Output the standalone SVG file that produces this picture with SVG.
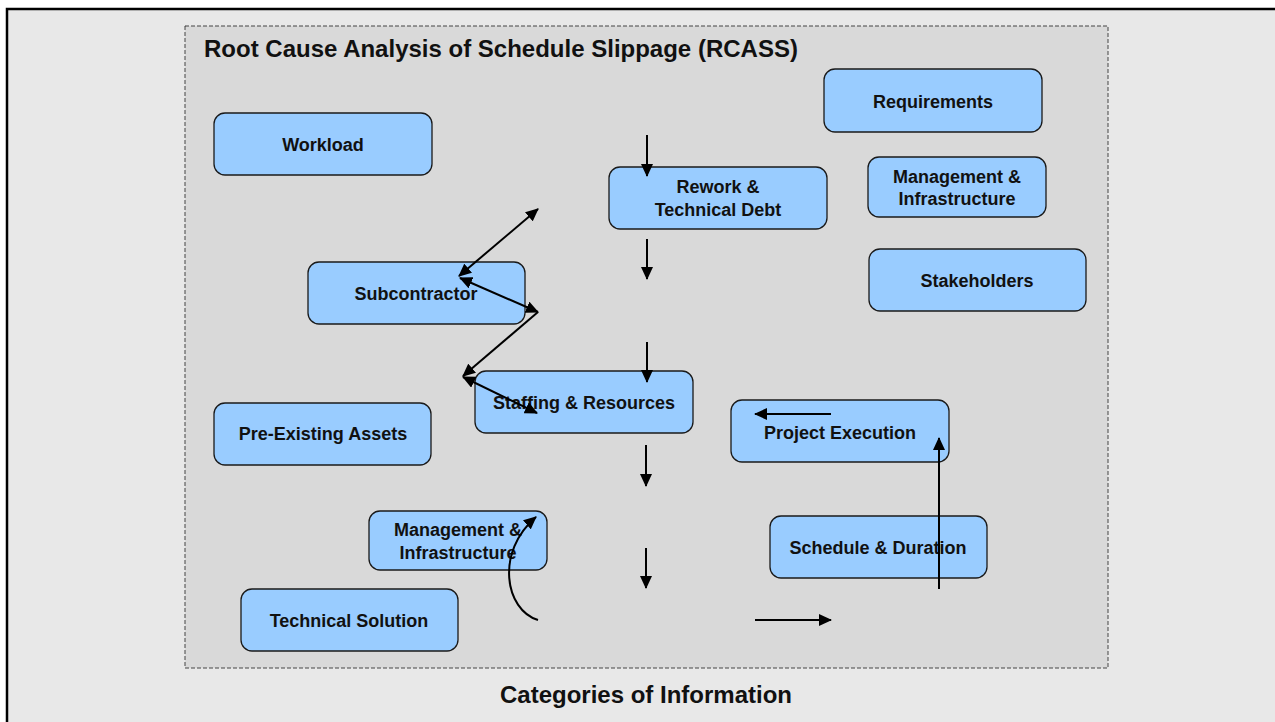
<svg xmlns="http://www.w3.org/2000/svg" width="1275" height="722" viewBox="0 0 1275 722">
<style>
.node rect{fill:#99ccff;stroke:#1a1a1a;stroke-width:1.3}
.node text,.lbl{font-family:"Liberation Sans",Arial,Helvetica,sans-serif;font-weight:bold;fill:#111}
.node text{font-size:18px;text-anchor:middle}
.conn path,.conn line{stroke:#000;stroke-width:2;fill:none}
</style>
<defs>
<marker id="ah" markerUnits="userSpaceOnUse" markerWidth="13" markerHeight="12" refX="12" refY="6" orient="auto-start-reverse" viewBox="0 0 13 12">
<path d="M0,0 L13,6 L0,12 z" fill="#000"/>
</marker>
</defs>
<rect x="0" y="0" width="1275" height="722" fill="#ffffff"/>
<rect id="frame" x="7" y="9" width="1300" height="760" fill="#e8e8e8" stroke="#000" stroke-width="2.5"/>
<rect id="panel" x="185" y="26" width="923" height="642" fill="#d9d9d9" stroke="#444" stroke-width="1" stroke-dasharray="4,2"/>
<text class="lbl" x="204" y="57" font-size="24">Root Cause Analysis of Schedule Slippage (RCASS)</text>
<text class="lbl" x="646" y="703" font-size="24" text-anchor="middle">Categories of Information</text>

<g id="n-workload" class="node"><rect x="214" y="113" width="218" height="62" rx="11"/><text x="323" y="151">Workload</text></g>
<g id="n-requirements" class="node"><rect x="824" y="69" width="218" height="63" rx="11"/><text x="933" y="108">Requirements</text></g>
<g id="n-rework" class="node"><rect x="609" y="167" width="218" height="62" rx="11"/><text x="718" y="193">Rework &amp;</text><text x="718" y="216">Technical Debt</text></g>
<g id="n-mgmt1" class="node"><rect x="868" y="157" width="178" height="60" rx="11"/><text x="957" y="183">Management &amp;</text><text x="957" y="205">Infrastructure</text></g>
<g id="n-stakeholders" class="node"><rect x="869" y="249" width="217" height="62" rx="11"/><text x="977" y="287">Stakeholders</text></g>
<g id="n-subcontractor" class="node"><rect x="308" y="262" width="217" height="62" rx="11"/><text x="416" y="300">Subcontractor</text></g>
<g id="n-preexisting" class="node"><rect x="214" y="403" width="217" height="62" rx="11"/><text x="323" y="440">Pre-Existing Assets</text></g>
<g id="n-staffing" class="node"><rect x="475" y="371" width="218" height="62" rx="11"/><text x="584" y="409">Staffing &amp; Resources</text></g>
<g id="n-mgmt2" class="node"><rect x="369" y="511" width="178" height="59" rx="11"/><text x="458" y="536">Management &amp;</text><text x="458" y="559">Infrastructure</text></g>
<g id="n-techsol" class="node"><rect x="241" y="589" width="217" height="62" rx="11"/><text x="349" y="627">Technical Solution</text></g>
<g id="n-projexec" class="node"><rect x="731" y="400" width="218" height="62" rx="11"/><text x="840" y="439">Project Execution</text></g>
<g id="n-schedule" class="node"><rect x="770" y="516" width="217" height="62" rx="11"/><text x="878" y="554">Schedule &amp; Duration</text></g>

<g id="connectors" class="conn">
<line x1="647" y1="135" x2="647" y2="176" marker-end="url(#ah)"/>
<line x1="647" y1="239" x2="647" y2="279" marker-end="url(#ah)"/>
<line x1="647" y1="342" x2="647" y2="382" marker-end="url(#ah)"/>
<line x1="646" y1="445" x2="646" y2="486" marker-end="url(#ah)"/>
<line x1="646" y1="548" x2="646" y2="588" marker-end="url(#ah)"/>
<line x1="755" y1="620" x2="831" y2="620" marker-end="url(#ah)"/>
<line x1="939" y1="589" x2="939" y2="438" marker-end="url(#ah)"/>
<line x1="831" y1="414" x2="755" y2="414" marker-end="url(#ah)"/>
<path d="M538,620 C505,610 495,552 536,517" marker-end="url(#ah)"/>
<line x1="459" y1="276" x2="538" y2="209" marker-start="url(#ah)" marker-end="url(#ah)"/>
<line x1="460" y1="278" x2="538" y2="312" marker-start="url(#ah)" marker-end="url(#ah)"/>
<line x1="538" y1="312" x2="463" y2="376" marker-end="url(#ah)"/>
<line x1="463" y1="377" x2="537" y2="413" marker-start="url(#ah)" marker-end="url(#ah)"/>
</g>
</svg>
